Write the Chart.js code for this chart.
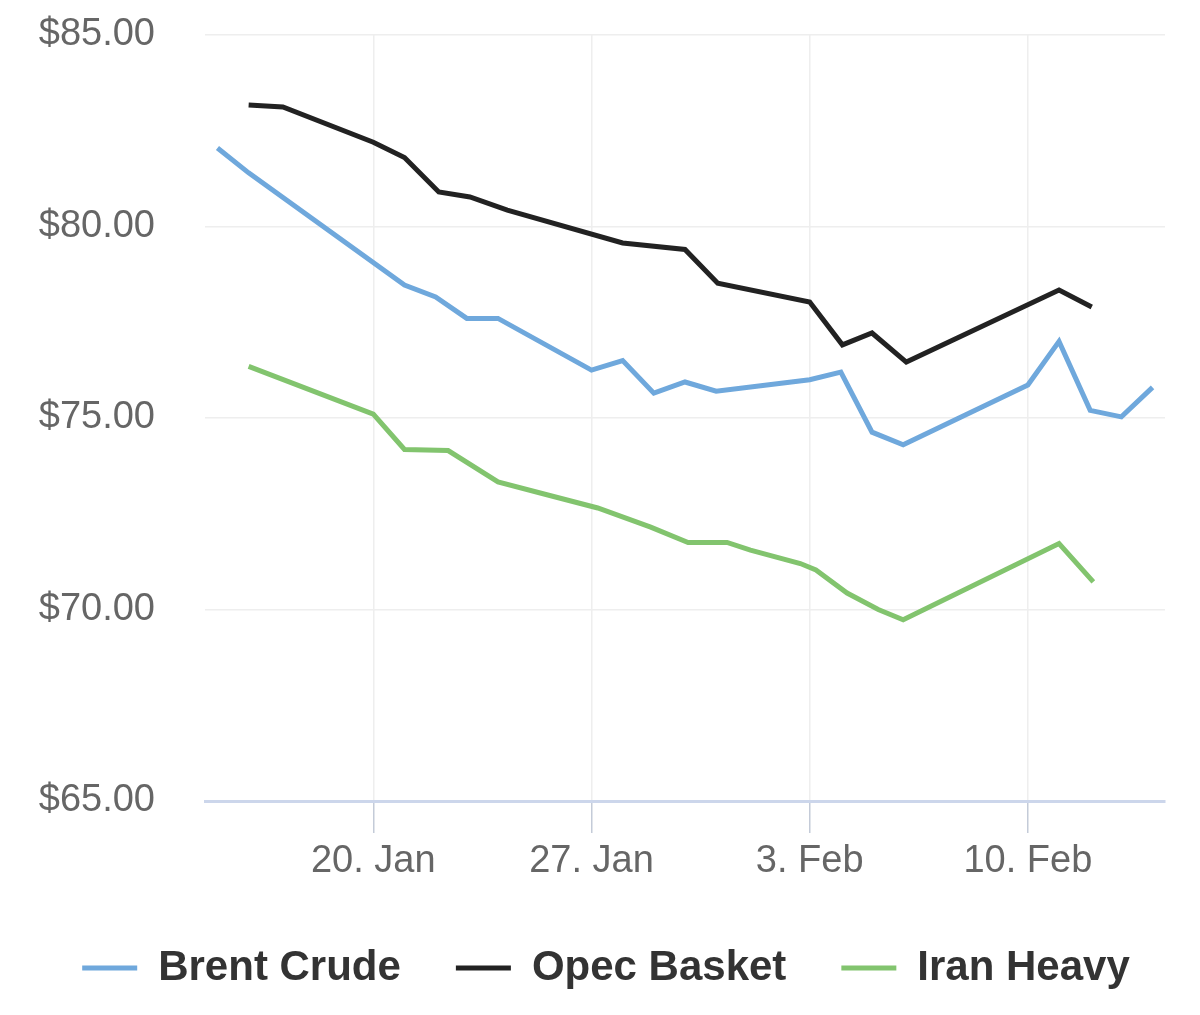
<!DOCTYPE html>
<html>
<head>
<meta charset="utf-8">
<script src="https://cdn.jsdelivr.net/npm/chart.js@4"></script>
<style>
  html, body { margin: 0; padding: 0; background: #fff; }
  #wrap { width: 1200px; height: 1015px; }
</style>
</head>
<body>
<div id="wrap"><canvas id="oilChart" width="1200" height="1015"></canvas></div>
<script>
// x values are day numbers counted from 1 Jan (32 = 1 Feb)
const brentDays = [15, 16, 21, 22, 23, 24, 27, 28, 29, 30, 31, 34, 35, 36, 37, 41, 42, 43, 44, 45];
const brentValues = [82.05, 81.4, 78.47, 78.16, 77.6, 77.6, 76.25, 76.5, 75.65, 75.94, 75.7, 76.0, 76.2, 74.63, 74.3, 75.86, 77.0, 75.2, 75.03, 75.8];

const opecDays = [16, 17.1, 20, 21, 22.1, 23.1, 24.3, 28, 30, 31.05, 34, 35.05, 36, 37.1, 42, 43.05];
const opecValues = [83.17, 83.12, 82.2, 81.8, 80.9, 80.77, 80.43, 79.57, 79.4, 78.52, 78.03, 76.91, 77.22, 76.46, 78.34, 77.9];

const iranDays = [16, 20, 21, 22.4, 24, 25.6, 27.2, 28.9, 30.1, 31.35, 32.1, 33.7, 34.2, 35.2, 36.2, 37, 42, 43.1];
const iranValues = [76.35, 75.1, 74.18, 74.15, 73.33, 72.99, 72.65, 72.15, 71.75, 71.75, 71.55, 71.2, 71.03, 70.43, 70.0, 69.73, 71.72, 70.72];

const xTickDays = [20, 27, 34, 41];
const xTickLabels = ['20. Jan', '27. Jan', '3. Feb', '10. Feb'];
const yTicks = [65, 70, 75, 80, 85];

function toPoints(days, values) {
  return days.map((d, i) => ({ x: d, y: values[i] }));
}

const fontFamily = '"Liberation Sans", Arial, sans-serif';

const ctx = document.getElementById('oilChart').getContext('2d');
new Chart(ctx, {
  type: 'line',
  data: {
    datasets: [
      {
        label: 'Brent Crude',
        data: toPoints(brentDays, brentValues),
        borderColor: '#6fa8dc',
        backgroundColor: '#6fa8dc',
        borderWidth: 5,
        pointRadius: 0,
        tension: 0
      },
      {
        label: 'Opec Basket',
        data: toPoints(opecDays, opecValues),
        borderColor: '#222222',
        backgroundColor: '#222222',
        borderWidth: 5,
        pointRadius: 0,
        tension: 0
      },
      {
        label: 'Iran Heavy',
        data: toPoints(iranDays, iranValues),
        borderColor: '#82c46e',
        backgroundColor: '#82c46e',
        borderWidth: 5,
        pointRadius: 0,
        tension: 0
      }
    ]
  },
  options: {
    responsive: false,
    animation: false,
    layout: { padding: { top: 35, right: 9, bottom: 16, left: 21 } },
    plugins: {
      tooltip: { enabled: false },
      legend: {
        position: 'bottom',
        labels: {
          usePointStyle: true,
          pointStyle: 'line',
          pointStyleWidth: 55,
          boxHeight: 4,
          padding: 55,
          color: '#333',
          font: { family: fontFamily, size: 42, weight: 'bold' }
        }
      }
    },
    scales: {
      x: {
        type: 'linear',
        min: 14.6,
        max: 45.4,
        afterBuildTicks: (scale) => {
          scale.ticks = xTickDays.map(v => ({ value: v }));
        },
        afterFit: (scale) => { scale.height = 91; },
        ticks: {
          autoSkip: false,
          maxRotation: 0,
          padding: 6,
          color: '#666',
          font: { family: fontFamily, size: 38 },
          callback: (v) => xTickLabels[xTickDays.indexOf(v)]
        },
        grid: {
          color: '#eeeeee',
          lineWidth: 1.5,
          tickColor: '#c4cbd8',
          tickLength: 32
        },
        border: { color: '#ccd6eb', width: 3 }
      },
      y: {
        min: 65,
        max: 85,
        afterBuildTicks: (scale) => {
          scale.ticks = yTicks.map(v => ({ value: v }));
        },
        afterFit: (scale) => { scale.width = 184; },
        ticks: {
          padding: 0,
          color: '#666',
          font: { family: fontFamily, size: 38 },
          callback: (v) => '$' + v.toFixed(2)
        },
        grid: {
          color: '#eeeeee',
          lineWidth: 1.5,
          drawTicks: true,
          tickLength: 50,
          tickColor: 'rgba(0,0,0,0)'
        },
        border: { display: false }
      },
      // empty right-hand axis that only reserves the blank margin
      yRight: {
        position: 'right',
        min: 65,
        max: 85,
        afterFit: (scale) => { scale.width = 26; },
        ticks: { display: false },
        grid: { display: false },
        border: { display: false }
      }
    }
  }
});
</script>
</body>
</html>
